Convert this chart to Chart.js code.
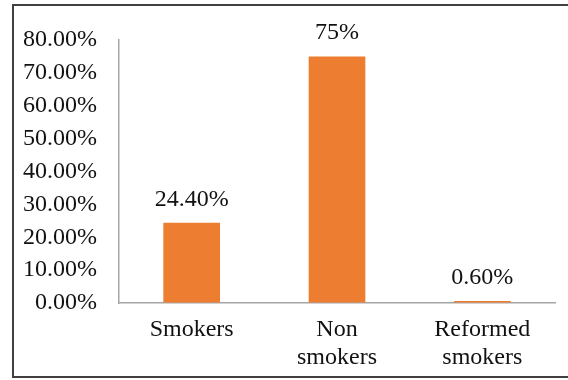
<!DOCTYPE html>
<html>
<head>
<meta charset="utf-8">
<script src="https://cdn.jsdelivr.net/npm/chart.js@4"></script>
<style>
  body { margin: 0; background: #fff; }
  canvas { display: block; }
</style>
</head>
<body>
<canvas id="smokeChart" width="568" height="380"></canvas>
<script>
const categories = [["Smokers"], ["Non", "smokers"], ["Reformed", "smokers"]];
const shares = [24.4, 75, 0.6];
const shareLabels = ["24.40%", "75%", "0.60%"];
const yTicks = [0, 10, 20, 30, 40, 50, 60, 70, 80];

const fontFamily = "'Liberation Serif', 'Times New Roman', serif";

// frame round the whole figure (right edge falls off the picture)
const frame = {
  id: "frame",
  afterDraw(chart) {
    const ctx = chart.ctx;
    ctx.save();
    ctx.strokeStyle = "#404040";
    ctx.lineWidth = 2;
    ctx.strokeRect(13, 5, 600, 372);
    ctx.restore();
  }
};

// value labels above each bar
const valueLabels = {
  id: "valueLabels",
  afterDatasetsDraw(chart) {
    const ctx = chart.ctx;
    const meta = chart.getDatasetMeta(0);
    ctx.save();
    ctx.font = "24px " + fontFamily;
    ctx.fillStyle = "#111";
    ctx.textAlign = "center";
    ctx.textBaseline = "alphabetic";
    meta.data.forEach((bar, i) => {
      ctx.fillText(shareLabels[i], bar.x, bar.y - 17);
    });
    ctx.restore();
  }
};

new Chart(document.getElementById("smokeChart"), {
  type: "bar",
  data: {
    labels: categories,
    datasets: [{
      data: shares,
      backgroundColor: "#ED7D31",
      borderWidth: 0,
      categoryPercentage: 1,
      barPercentage: 0.39
    }]
  },
  options: {
    responsive: false,
    animation: false,
    layout: { padding: { left: 13, right: 13, top: 40, bottom: 0 } },
    plugins: { legend: { display: false }, tooltip: { enabled: false } },
    scales: {
      x: {
        grid: { display: true, drawOnChartArea: false, drawTicks: false },
        border: { display: true, color: "#a6a6a6", width: 1.5 },
        ticks: { color: "#111", font: { family: fontFamily, size: 24, lineHeight: 1.2 }, padding: 12, maxRotation: 0 },
        afterFit(scale) { scale.height = 77; }
      },
      y: {
        min: 0,
        max: 80,
        afterBuildTicks(scale) { scale.ticks = yTicks.map(v => ({ value: v })); },
        grid: { display: true, drawOnChartArea: false, drawTicks: false },
        border: { display: true, color: "#a6a6a6", width: 1.5 },
        ticks: {
          color: "#111",
          font: { family: fontFamily, size: 24 },
          padding: 22,
          callback: v => v.toFixed(2) + "%"
        },
        afterFit(scale) { scale.width = 106; }
      }
    }
  },
  plugins: [frame, valueLabels]
});
</script>
</body>
</html>
